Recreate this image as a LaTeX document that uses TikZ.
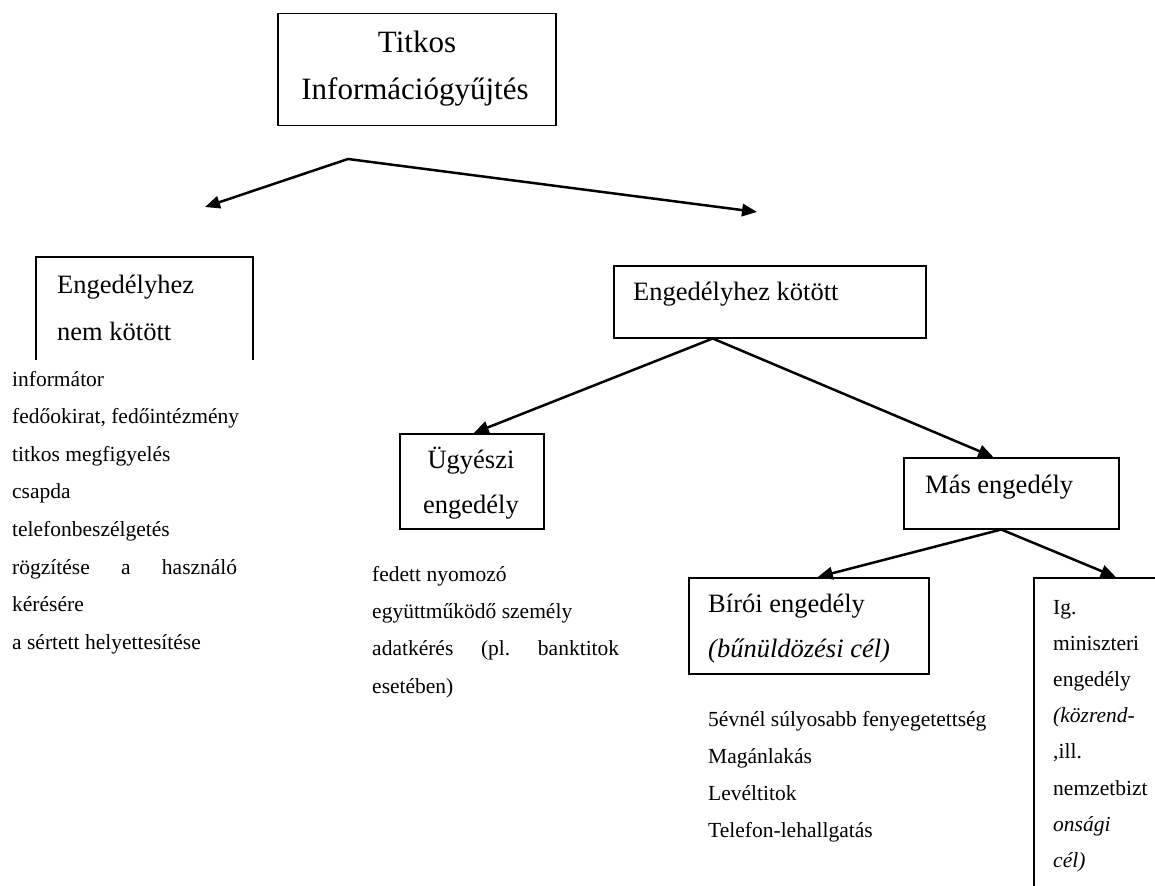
\documentclass[tikz,border=0pt]{standalone}
\usepackage{fontspec}
\setmainfont{Liberation Serif}
\usetikzlibrary{arrows.meta, positioning}
\newcommand{\toptext}{\fontsize{31}{34}\selectfont}
\newcommand{\boxtext}{\fontsize{26.5}{30}\selectfont}
\newcommand{\listtext}{\fontsize{21.5}{24}\selectfont}

\begin{document}
\begin{tikzpicture}[
    x=1pt, y=-1pt,
    >={Triangle[length=15pt, width=12.5pt]},
    frame/.style={draw, line width=1.5pt, inner sep=0pt, anchor=north west},
    link/.style={<->, line width=2.5pt, line join=miter},
    boxwords/.style={anchor=base west, inner sep=0pt, font=\boxtext},
    words/.style={anchor=base west, inner sep=0pt, font=\listtext}
]
\useasboundingbox (0,0) rectangle (1155,885);
\clip (0,0) rectangle (1155,885);

% Boxes
\node[frame, minimum width=278pt, minimum height=112pt] (titkos) at (277,13) {};
\node[frame, minimum width=312pt, minimum height=72pt] (kotott) at (613,265) {};
\node[frame, minimum width=144pt, minimum height=95pt] (ugyesz) at (399,433) {};
\node[frame, minimum width=215pt, minimum height=71pt] (mas) at (903,457) {};
\node[frame, minimum width=240pt, minimum height=96pt] (biroi) at (688,577) {};
\node[frame, minimum width=200pt, minimum height=400pt] (minisz) at (1033,577) {};

% Open box on the left
\draw[line width=1.5pt] (36,360) -- (36,257) -- (253,257) -- (253,360);

% Box texts
\node[anchor=base, inner sep=0pt, font=\toptext] (titkos1) at (417,53) {Titkos};
\node[anchor=base, inner sep=0pt, font=\toptext] (titkos2) at (415,100) {Információgyűjtés};
\node[boxwords] (nemkot1) at (57,293) {Engedélyhez};
\node[boxwords] (nemkot2) at (57,340) {nem kötött};
\node[boxwords] (kotott1) at (633,300) {Engedélyhez kötött};
\node[boxwords, anchor=base] (ugyesz1) at (471,468) {Ügyészi};
\node[boxwords, anchor=base] (ugyesz2) at (471,513) {engedély};
\node[boxwords] (mas1) at (925,493) {Más engedély};
\node[boxwords] (biroi1) at (708,612) {Bírói engedély};
\node[boxwords] (biroi2) at (708,657) {\itshape (bűnüldözési cél)};

% Lists
\foreach \txt [count=\i from 0] in {informátor, {fedőokirat, fedőintézmény}, titkos megfigyelés, csapda, telefonbeszélgetés, {\hbox to 225pt{rögzítése\hfill a\hfill használó}}, kérésére, a sértett helyettesítése}
    \node[words] (nemlist\i) at (12, 386+37.6*\i) {\txt};

\foreach \txt [count=\i from 0] in {fedett nyomozó, együttműködő személy, {\hbox to 247pt{adatkérés\hfill (pl.\hfill banktitok}}, {esetében)}}
    \node[words] (ugylist\i) at (372, 581+37.4*\i) {\txt};

\foreach \txt [count=\i from 0] in {5évnél súlyosabb fenyegetettség, Magánlakás, Levéltitok, Telefon-lehallgatás}
    \node[words] (birlist\i) at (708, 726+37.3*\i) {\txt};

\foreach \txt [count=\i from 0] in {Ig., miniszteri, engedély, {\itshape (közrend-}, {,ill.}, nemzetbizt, {\itshape onsági}, {\itshape cél)}}
    \node[words] (minlist\i) at (1053, 614+36.2*\i) {\txt};

% Connectors
\coordinate (split) at (348,159);
\coordinate (leftend) at (205,207);
\coordinate (rightend) at (757,212);
\draw[link] (leftend) -- (split) -- (rightend);

\draw[link] ([xshift=2pt]ugyesz.north) -- ([xshift=-57pt]kotott.south) -- ([xshift=-18pt]mas.north);
\draw[link] ([xshift=9pt]biroi.north) -- ([xshift=-10pt]mas.south) -- ([xshift=-18pt]minisz.north);

\end{tikzpicture}
\end{document}
